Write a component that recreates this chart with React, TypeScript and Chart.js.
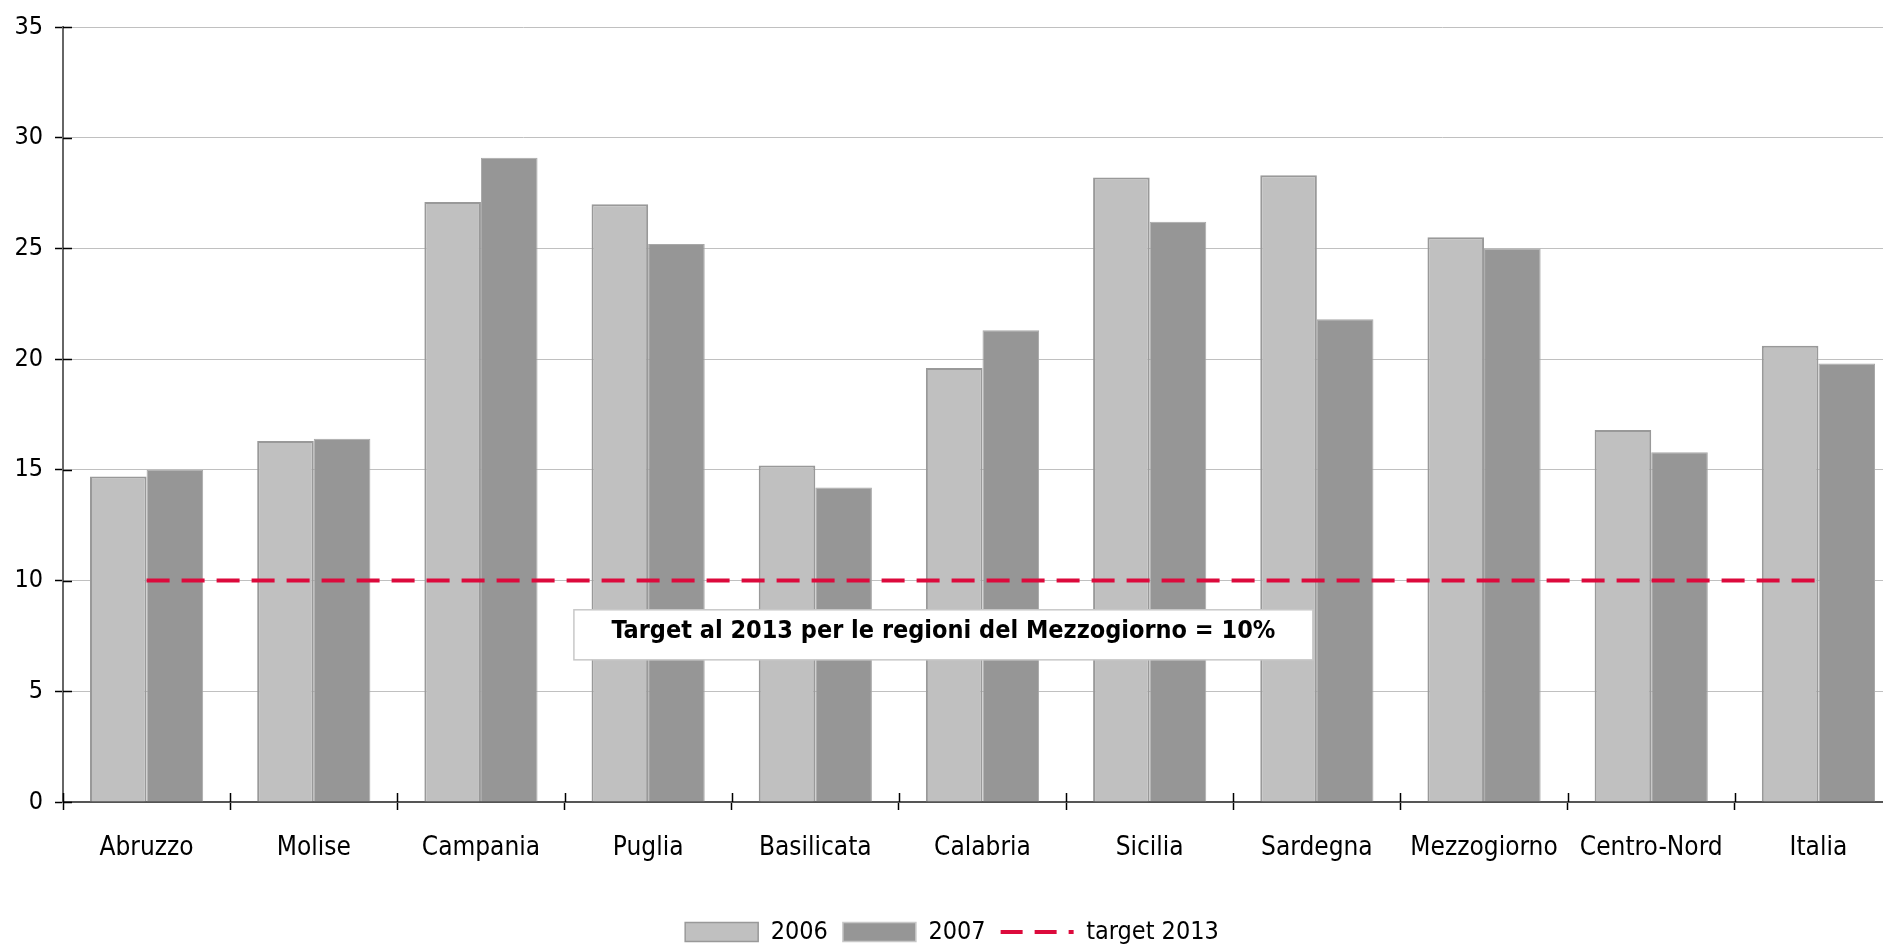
import React, { useEffect, useRef } from 'react';
import { Chart, registerables } from 'chart.js';

Chart.register(...registerables);

// ---- data ----
const categories = [
  'Abruzzo', 'Molise', 'Campania', 'Puglia', 'Basilicata', 'Calabria',
  'Sicilia', 'Sardegna', 'Mezzogiorno', 'Centro-Nord', 'Italia',
];
const values2006 = [14.7, 16.3, 27.1, 27.0, 15.2, 19.6, 28.2, 28.3, 25.5, 16.8, 20.6];
const values2007 = [15.0, 16.4, 29.1, 25.2, 14.2, 21.3, 26.2, 21.8, 25.0, 15.8, 19.8];
const target2013 = [10, 10, 10, 10, 10, 10, 10, 10, 10, 10, 10];
const seriesLabels = ['2006', '2007', 'target 2013'];
const yMin = 0;
const yMax = 35;
const yStep = 5;

const noteText = 'Target al 2013 per le regioni del Mezzogiorno = 10%';

// ---- layout / style ----
const FONT = '"DejaVu Sans Condensed", "DejaVu Sans", sans-serif';
const NOTE_X = [2.556, 6.976]; // category-index coordinates of note box
const NOTE_Y = [6.42, 8.68]; // value coordinates of note box
const LEG_DX = 1;
const LEG_DY = 9.5;

const crossTicks = {
  id: 'crossTicks',
  afterDraw(chart: any) {
    const { ctx, chartArea, scales } = chart;
    const x = scales.x;
    const y = scales.y;
    ctx.save();
    ctx.strokeStyle = '#000';
    ctx.lineWidth = 1.5;
    ctx.beginPath();
    y.ticks.forEach((_t: any, i: number) => {
      const py = Math.round(y.getPixelForTick(i)) + 0.5;
      ctx.moveTo(chartArea.left, py);
      ctx.lineTo(chartArea.left + 9, py);
    });
    for (let i = 0; i <= categories.length; i++) {
      const px = Math.round(x.getPixelForValue(i - 0.5)) + 0.5;
      ctx.moveTo(px, chartArea.bottom - 9);
      ctx.lineTo(px, chartArea.bottom);
    }
    ctx.stroke();
    ctx.restore();
  },
};

const noteBox = {
  id: 'noteBox',
  afterDatasetsDraw(chart: any) {
    const { ctx, scales } = chart;
    const x = scales.x;
    const y = scales.y;
    const x0 = x.getPixelForValue(NOTE_X[0]);
    const x1 = x.getPixelForValue(NOTE_X[1]);
    const y0 = y.getPixelForValue(NOTE_Y[1]);
    const y1 = y.getPixelForValue(NOTE_Y[0]);
    ctx.save();
    ctx.fillStyle = '#ffffff';
    ctx.fillRect(x0, y0, x1 - x0, y1 - y0);
    ctx.strokeStyle = '#C8C8C8';
    ctx.lineWidth = 1.5;
    ctx.strokeRect(x0, y0, x1 - x0, y1 - y0);
    ctx.fillStyle = '#000';
    ctx.font = 'bold 25px "DejaVu Sans Condensed", "DejaVu Sans", sans-serif';
    ctx.textAlign = 'center';
    ctx.textBaseline = 'alphabetic';
    ctx.fillText(noteText, (x0 + x1) / 2, y0 + (y1 - y0) * 0.56);
    ctx.restore();
  },
};

const legendShift = {
  id: 'legendShift',
  afterLayout(chart: any) {
    const lg = chart.legend;
    if (!lg) return;
    lg.top += LEG_DY;
    lg.bottom += LEG_DY;
    lg.left += LEG_DX;
    lg.right += LEG_DX;
  },
};

export default function App() {
  const ref = useRef<HTMLCanvasElement | null>(null);

  useEffect(() => {
    if (!ref.current) return;
    Chart.defaults.font.family = FONT;
    const chart = new Chart(ref.current, {
      type: 'bar',
      data: {
        labels: categories,
        datasets: [
          {
            type: 'bar',
            label: seriesLabels[0],
            data: values2006,
            backgroundColor: '#C0C0C0',
            borderColor: '#999999',
            borderWidth: 2,
            categoryPercentage: 0.677,
            barPercentage: 1.0,
            order: 1,
          },
          {
            type: 'bar',
            label: seriesLabels[1],
            data: values2007,
            backgroundColor: '#969696',
            borderColor: '#A8A8A8',
            borderWidth: 1,
            categoryPercentage: 0.677,
            barPercentage: 1.0,
            order: 1,
          },
          {
            type: 'line',
            label: seriesLabels[2],
            data: target2013,
            borderColor: '#DC0A3C',
            backgroundColor: '#DC0A3C',
            borderWidth: 4,
            borderDash: [23, 12],
            pointRadius: 0,
            fill: false,
            order: -1,
          } as any,
        ],
      },
      options: {
        responsive: false,
        animation: false,
        events: [],
        layout: { padding: { top: 25, left: 0, right: 0, bottom: 0 } },
        plugins: {
          tooltip: { enabled: false },
          legend: {
            position: 'bottom',
            labels: {
              color: '#000',
              font: { size: 25 },
              padding: 15,
              usePointStyle: true,
              pointStyleWidth: 73,
              boxHeight: 19,
              generateLabels: (c: any) =>
                c.data.datasets.map((ds: any, i: number) => ({
                  text: ds.label,
                  datasetIndex: i,
                  hidden: false,
                  fillStyle: i === 2 ? 'rgba(0,0,0,0)' : ds.backgroundColor,
                  strokeStyle: i === 2 ? ds.borderColor : (i === 0 ? '#999999' : '#C8C8C8'),
                  lineWidth: i === 2 ? 4 : 1.5,
                  lineDash: i === 2 ? [22, 12] : [],
                  pointStyle: i === 2 ? 'line' : 'rect',
                  fontColor: '#000',
                })),
            },
          },
        },
        scales: {
          x: {
            offset: true,
            grid: {
              offset: true,
              drawOnChartArea: false,
              tickLength: 8,
              tickColor: '#000',
              tickWidth: 1.5,
            },
            border: { color: '#555555', width: 2 },
            ticks: {
              color: '#000',
              font: { size: 26 },
              padding: 23,
              autoSkip: false,
              maxRotation: 0,
            },
            afterFit: (s: any) => {
              s.height = 93;
            },
          },
          y: {
            min: yMin,
            max: yMax,
            ticks: {
              stepSize: yStep,
              color: '#000',
              font: { size: 25 },
              padding: 12,
            },
            grid: {
              color: (c: any) => (c.tick && c.tick.value === 0 ? 'rgba(0,0,0,0)' : '#C0C0C0'),
              lineWidth: 1,
              tickLength: 8,
              tickColor: '#000',
              tickWidth: 1.5,
            },
            border: { color: '#666666', width: 2 },
            afterFit: (s: any) => {
              s.width = 63;
            },
          },
        },
      },
      plugins: [crossTicks, noteBox, legendShift],
    });
    return () => chart.destroy();
  }, []);

  return (
    <div
      style={{
        position: 'fixed',
        left: 0,
        top: 0,
        width: 1883,
        height: 945,
        overflow: 'hidden',
        background: '#fff',
      }}
    >
      <canvas ref={ref} width={1902} height={945} style={{ display: 'block', width: 1902, height: 945 }} />
    </div>
  );
}
